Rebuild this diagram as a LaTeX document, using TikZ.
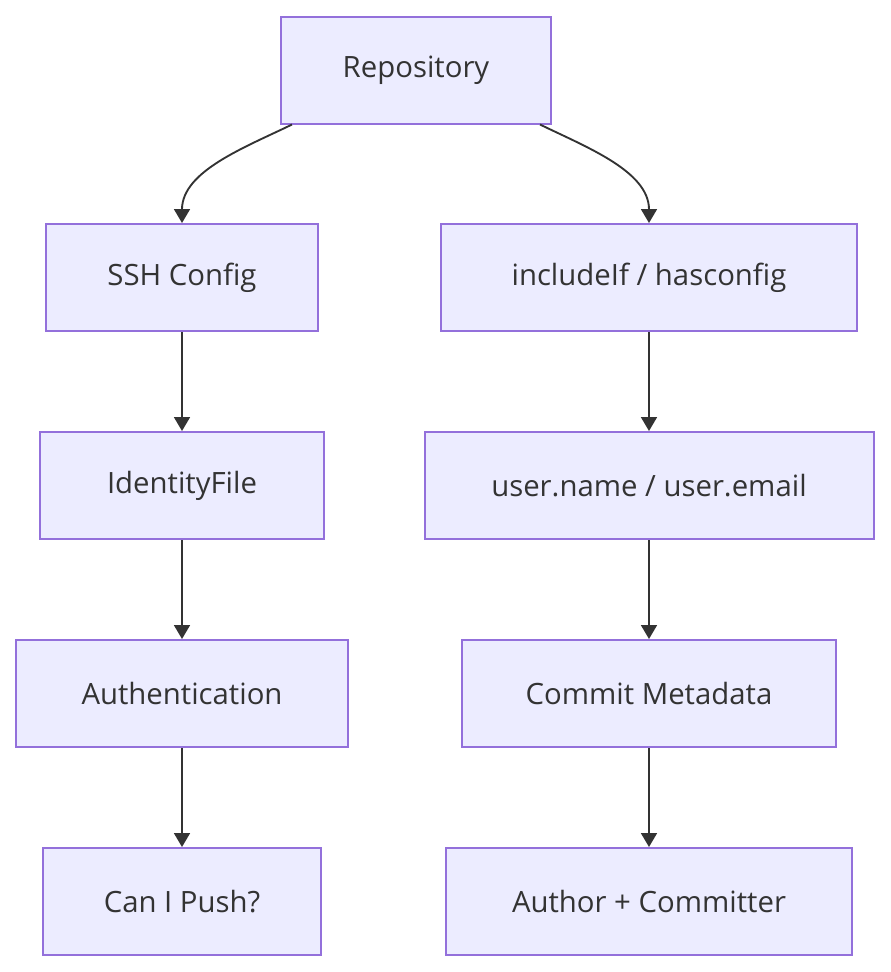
\documentclass[tikz,border=0pt]{standalone}
\usepackage{fontspec}
\setmainfont{Open Sans}
\usetikzlibrary{arrows.meta, positioning}

\definecolor{boxFill}{HTML}{ECECFF}
\definecolor{boxLine}{HTML}{9370DB}
\definecolor{edgeGray}{HTML}{333333}

\begin{document}
\begin{tikzpicture}[
        x=0.75pt, y=0.75pt,
        node distance=74.25pt,
        blockNode/.style={rectangle, draw=boxLine, fill=boxFill, line width=1.5pt, align=center,
            minimum height=80.25pt, text=edgeGray, font=\fontsize{22}{26}\selectfont},
        arrow/.style={-{Triangle[length=10.5pt, width=12pt]}, draw=edgeGray, line width=1.4pt}
    ]
        \useasboundingbox (0,0) rectangle (890,-972);

        \node[blockNode, minimum width=202.5pt] (repo) at (416,-70) {Repository};
        \node[blockNode, minimum width=204pt] (sshConfig) at (182,-277.5) {SSH Config};
        \node[blockNode, minimum width=312pt] (includeIf) at (649,-277.5) {includeIf / hasconfig};
        \node[blockNode, minimum width=213pt, below=of sshConfig] (identityFile) {IdentityFile};
        \node[blockNode, minimum width=336.75pt, below=of includeIf] (userInfo) {user.name / user.email};
        \node[blockNode, minimum width=249pt, below=of identityFile] (authentication) {Authentication};
        \node[blockNode, minimum width=280.5pt, below=of userInfo] (commitMeta) {Commit Metadata};
        \node[blockNode, minimum width=208.5pt, below=of authentication] (canPush) {Can I Push?};
        \node[blockNode, minimum width=304.5pt, below=of commitMeta] (authorCommitter) {Author + Committer};

        % curved edges out of the repository
        \draw[arrow] ([xshift=9pt]repo.south west) to[out=-154, in=90, looseness=0.9] (sshConfig.north);
        \draw[arrow] ([xshift=-9pt]repo.south east) to[out=-26, in=90, looseness=0.9] (includeIf.north);

        \draw[arrow] (sshConfig) -- (identityFile);
        \draw[arrow] (identityFile) -- (authentication);
        \draw[arrow] (authentication) -- (canPush);
        \draw[arrow] (includeIf) -- (userInfo);
        \draw[arrow] (userInfo) -- (commitMeta);
        \draw[arrow] (commitMeta) -- (authorCommitter);
    \end{tikzpicture}
\end{document}
